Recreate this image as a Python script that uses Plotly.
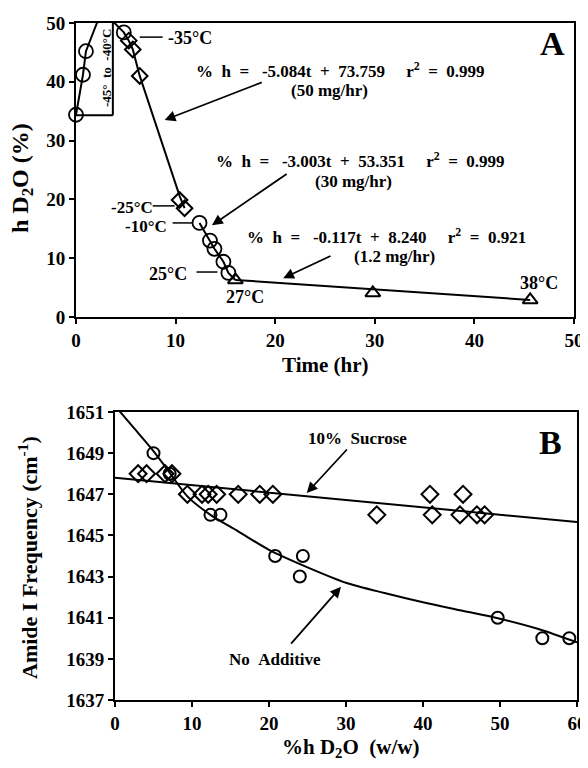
import plotly.graph_objects as go

# ---------------- Panel A data ----------------
a_circ1_t = [0.0, 0.7, 1.0, 4.8]
a_circ1_h = [34.4, 41.2, 45.2, 48.4]
a_diam_t = [5.3, 5.7, 6.4, 10.4, 10.9]
a_diam_h = [47.0, 45.5, 41.0, 19.9, 18.5]
a_circ2_t = [12.4, 13.45, 13.9, 14.8, 15.3]
a_circ2_h = [16.0, 13.0, 11.6, 9.4, 7.5]
a_tri_t = [16.0, 29.8, 45.6]
a_tri_h = [6.3, 4.1, 2.9]

# drawn curves
a_seg1_t = [0.0, 0.7, 1.0, 2.1, 3.0, 3.9, 4.8, 5.3, 5.7, 6.4, 10.4, 10.9]
a_seg1_h = [34.4, 41.2, 45.2, 50.0, 51.5, 50.0, 48.4, 47.0, 45.5, 41.0, 20.6, 18.5]
a_seg2_t = [12.4, 13.45, 13.9, 14.8, 15.3, 16.0]
a_seg2_h = [16.0, 13.0, 11.6, 9.4, 7.5, 6.3]
a_seg3_t = [16.0, 45.6]
a_seg3_h = [6.3, 2.9]

a_xticks = [0, 10, 20, 30, 40, 50]
a_yticks = [0, 10, 20, 30, 40, 50]

# ---------------- Panel B data ----------------
b_noadd_x = [5.0, 7.1, 12.4, 13.7, 20.8, 24.0, 24.4, 49.7, 55.5, 59.0]
b_noadd_y = [1649, 1648, 1646, 1646, 1644, 1643, 1644, 1641, 1640, 1640]
b_suc_x = [3.0, 4.1, 6.5, 7.4, 9.4, 11.3, 12.1, 13.2, 16.0, 18.8, 20.5,
           34.0, 40.9, 41.2, 44.8, 45.2, 47.0, 48.0]
b_suc_y = [1648, 1648, 1648, 1648, 1647, 1647, 1647, 1647, 1647, 1647, 1647,
           1646, 1647, 1646, 1646, 1647, 1646, 1646]
b_sucfit_x = [0, 60]
b_sucfit_y = [1647.8, 1645.65]
b_noaddfit_x = [0, 2.5, 5, 7, 9.4, 12.4, 16, 20, 25, 30, 35, 40, 45, 50, 55, 60]
b_noaddfit_y = [1651.3, 1650.2, 1649.1, 1648.1, 1646.9, 1646.0, 1645.2, 1644.3,
                1643.45, 1642.7, 1642.2, 1641.75, 1641.35, 1640.95, 1640.45, 1639.8]
b_xticks = [0, 10, 20, 30, 40, 50, 60]
b_yticks = [1637, 1639, 1641, 1643, 1645, 1647, 1649, 1651]

# page body has an 8px margin: shrink the figure so the page does not overflow
OFF = 8
W, H = 588 - 2 * OFF, 768 - 2 * OFF
FONT = "Liberation Serif"


def px(x):
    return (x - OFF) / W


def py(y):
    return 1 - (y - OFF) / H


fig = go.Figure()
blk = "black"

# Panel A lines
for t, h in [(a_seg1_t, a_seg1_h), (a_seg2_t, a_seg2_h), (a_seg3_t, a_seg3_h)]:
    fig.add_trace(go.Scatter(x=t, y=h, mode="lines", line=dict(color=blk, width=2),
                             xaxis="x", yaxis="y", showlegend=False, hoverinfo="skip"))
# Panel A markers
fig.add_trace(go.Scatter(x=a_circ1_t + a_circ2_t, y=a_circ1_h + a_circ2_h, mode="markers",
                         marker=dict(symbol="circle-open", size=14, color=blk, line=dict(width=1.8)),
                         xaxis="x", yaxis="y", showlegend=False, cliponaxis=False))
fig.add_trace(go.Scatter(x=a_diam_t, y=a_diam_h, mode="markers",
                         marker=dict(symbol="diamond-open", size=12, color=blk, line=dict(width=2)),
                         xaxis="x", yaxis="y", showlegend=False))
fig.add_trace(go.Scatter(x=a_tri_t, y=a_tri_h, mode="markers",
                         marker=dict(symbol="triangle-up-open", size=13, color=blk, line=dict(width=2)),
                         xaxis="x", yaxis="y", showlegend=False))

# Panel B lines
fig.add_trace(go.Scatter(x=b_sucfit_x, y=b_sucfit_y, mode="lines", line=dict(color=blk, width=2),
                         xaxis="x2", yaxis="y2", showlegend=False))
fig.add_trace(go.Scatter(x=b_noaddfit_x, y=b_noaddfit_y, mode="lines",
                         line=dict(color=blk, width=2, shape="spline", smoothing=0.8),
                         xaxis="x2", yaxis="y2", showlegend=False))
fig.add_trace(go.Scatter(x=b_suc_x, y=b_suc_y, mode="markers",
                         marker=dict(symbol="diamond-open", size=13, color=blk, line=dict(width=2)),
                         xaxis="x2", yaxis="y2", showlegend=False))
fig.add_trace(go.Scatter(x=b_noadd_x, y=b_noadd_y, mode="markers",
                         marker=dict(symbol="circle-open", size=12, color=blk, line=dict(width=2)),
                         xaxis="x2", yaxis="y2", showlegend=False, cliponaxis=False))

tickfont = dict(family=FONT, size=19, color=blk, weight="bold")
axcommon = dict(showline=True, linecolor=blk, linewidth=2, mirror=True, ticks="outside",
                ticklen=5, tickwidth=2, tickcolor=blk, showgrid=False, zeroline=False,
                tickfont=tickfont, automargin=False, ticklabeloverflow="allow")

fig.update_layout(
    width=W, height=H, margin=dict(l=0, r=0, t=0, b=0, pad=0, autoexpand=False),
    paper_bgcolor="white", plot_bgcolor="white",
    xaxis=dict(domain=[px(76), px(574)], range=[0, 50], tickvals=a_xticks, anchor="y", **axcommon),
    yaxis=dict(domain=[py(317), py(23)], range=[0, 50], tickvals=a_yticks, anchor="x", **axcommon),
    xaxis2=dict(domain=[px(115), px(577)], range=[0, 60], tickvals=b_xticks, anchor="y2", **axcommon),
    yaxis2=dict(domain=[py(700), py(412)], range=[1637, 1651], tickvals=b_yticks, anchor="x2", **axcommon),
)

ann = []


def text(x, y, s, size=14, angle=0, xanchor="center"):
    ann.append(dict(xref="paper", yref="paper", x=px(x), y=py(y), text=s, showarrow=False,
                    xanchor=xanchor, yanchor="middle", textangle=angle,
                    font=dict(family=FONT, size=size, color=blk, weight="bold")))


def arrow(xr, yr, hx, hy, tx, ty):
    ann.append(dict(xref=xr, yref=yr, axref=xr, ayref=yr, x=hx, y=hy, ax=tx, ay=ty, text="",
                    showarrow=True, arrowhead=2, arrowsize=1.2, arrowwidth=1.8, arrowcolor=blk,
                    standoff=0, startstandoff=0))


s = "\u00a0"
# Panel A texts
text(340, 70, f"%{s}{s}h{s}{s}={s}{s}{s}-5.084t{s}{s}+{s}{s}73.759{s}{s}{s}{s}{s}r<sup>2</sup>{s}{s}={s}{s}0.999", 17)
text(329, 90, "(50 mg/hr)", 17)
text(360, 160, f"%{s}{s}h{s}{s}={s}{s}{s}-3.003t{s}{s}+{s}{s}53.351{s}{s}{s}{s}{s}r<sup>2</sup>{s}{s}={s}{s}0.999", 17)
text(353, 181, "(30 mg/hr)", 17)
text(386, 236, f"%{s}{s}h{s}{s}={s}{s}{s}-0.117t{s}{s}+{s}{s}8.240{s}{s}{s}{s}{s}r<sup>2</sup>{s}{s}={s}{s}0.921", 17)
text(394, 257, "(1.2 mg/hr)", 17)
text(190, 38, "-35°C", 18)
text(132, 207, "-25°C", 17)
text(146, 226, "-10°C", 17)
text(168, 274, "25°C", 18)
text(245, 297, "27°C", 18)
text(539, 283, "38°C", 18)
text(107, 68, f"-45°{s}{s}to{s}{s}-40°C", 13, angle=-90)
text(552, 43, "A", 34)
text(325, 365, "Time (hr)", 21)
text(22, 178, "h D<sub>2</sub>O (%)", 24, angle=-90)

# Panel B texts
text(357, 439, f"10%{s}{s}Sucrose", 17)
text(275, 659, f"No{s}{s}Additive", 17)
text(550, 442, "B", 34)
text(350, 748, f"%h D<sub>2</sub>O{s}{s}(w/w)", 21)
text(28, 558, "Amide I Frequency (cm<sup>-1</sup>)", 22, angle=-90)

# Arrows
arrow("x", "y", 8.9, 33.5, 18.8, 40.0)
arrow("x", "y", 13.65, 15.6, 21.3, 24.5)
arrow("x", "y", 20.8, 6.6, 25.7, 10.5)
arrow("x2", "y2", 24.9, 1647.06, 30.3, 1649.25)
arrow("x2", "y2", 29.35, 1642.5, 22.7, 1639.67)

fig.update_layout(annotations=ann)

# leader lines and bracket box
shapes = []
for (t0, t1, h) in [(6.4, 8.7, 47.6), (7.7, 9.9, 18.9), (9.7, 11.7, 16.0), (12.1, 14.2, 7.65)]:
    shapes.append(dict(type="line", xref="x", yref="y", x0=t0, x1=t1, y0=h, y1=h,
                       line=dict(color=blk, width=1.5)))
shapes.append(dict(type="line", xref="x", yref="y", x0=0, x1=3.7, y0=34.3, y1=34.3,
                   line=dict(color=blk, width=2)))
shapes.append(dict(type="line", xref="x", yref="y", x0=3.7, x1=3.7, y0=34.3, y1=50,
                   line=dict(color=blk, width=2)))
fig.update_layout(shapes=shapes)

fig.write_html("out.html")
